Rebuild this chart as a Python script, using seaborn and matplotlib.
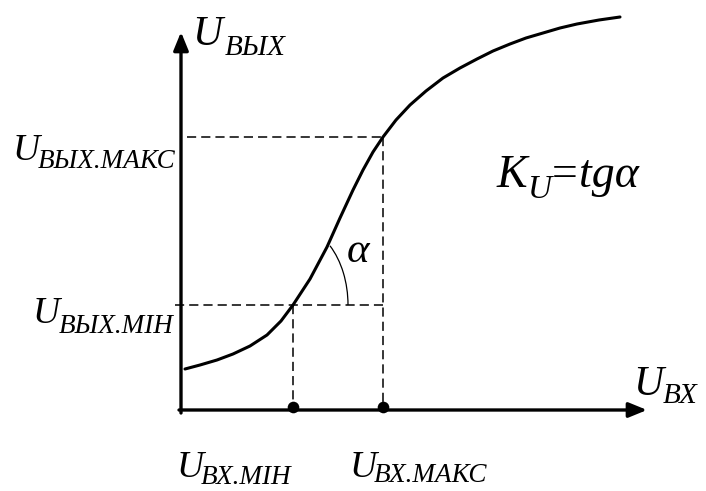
import numpy as np
import pandas as pd
import seaborn as sns
import matplotlib
matplotlib.use("Agg")
import matplotlib.pyplot as plt
from matplotlib.patches import Arc

# Transfer characteristic U_out(U_in), arbitrary units
u_in = [4, 19, 36, 52, 69, 86, 100, 112, 129, 146, 159, 172, 182, 192, 202,
        215, 229, 245, 262, 279, 296, 312, 329, 345, 362, 379, 396, 418, 439]
u_out = [41, 45, 50, 56, 64, 75, 89, 105, 131, 163, 192, 220, 240, 258, 273,
         290, 305, 319, 332, 342, 351, 359, 366, 372, 377, 382, 386, 390, 393]

# Working range of the input and the resulting output levels
in_levels = [112, 202]     # U_ВХ.МІН, U_ВХ.МАКС
out_levels = [105, 273]    # U_ВЫХ.МІН, U_ВЫХ.МАКС

# Axis extents
x_axis_end = 466
y_axis_end = 378

sns.set_theme(style="white")
plt.rcParams["font.family"] = ["Liberation Serif", "DejaVu Serif"]
plt.rcParams["font.style"] = "italic"
plt.rcParams["text.color"] = "black"

fig = plt.figure(figsize=(7.06, 4.91), dpi=100)
ax = fig.add_axes([0, 0, 1, 1])
ax.set_xlim(-181, 525)
ax.set_ylim(-81, 410)
ax.axis("off")

curve = pd.DataFrame({"u_in": u_in, "u_out": u_out})
sns.lineplot(data=curve, x="u_in", y="u_out", sort=False, estimator=None,
             color="black", lw=2.2, ax=ax)
for line in ax.lines:
    line.set_solid_joinstyle("round")
    line.set_solid_capstyle("round")

# Coordinate axes with arrowheads
arrow = dict(arrowstyle="-|>,head_length=1.1,head_width=0.45", color="black",
             lw=2.4, shrinkA=0, shrinkB=0, mutation_scale=10)
ax.annotate("", xy=(0, y_axis_end), xytext=(0, -3), arrowprops=arrow)
ax.annotate("", xy=(x_axis_end, 0), xytext=(-2, 0), arrowprops=arrow)

# Dashed projection lines
dash = dict(color="black", lw=1.1, dashes=(6, 3.3))
ax.plot([-6, in_levels[1]], [out_levels[0], out_levels[0]], **dash)
ax.plot([6, in_levels[1]], [out_levels[1], out_levels[1]], **dash)
ax.plot([in_levels[0], in_levels[0]], [out_levels[0], 0], **dash)
ax.plot([in_levels[1], in_levels[1]], [out_levels[1], 0], **dash)

# Points on the input axis
sns.scatterplot(x=in_levels, y=[3, 3], color="black", s=70, marker="o",
                linewidth=0, ax=ax, zorder=5)

# Slope angle arc
ax.add_patch(Arc((in_levels[0], out_levels[0]), 110, 160, theta1=0,
                 theta2=58, color="black", lw=0.9))

def label(x, y, main, sub, size_main, size_sub, dx, dy):
    ax.text(x, y, main, fontsize=size_main, va="baseline", ha="left",
            color="black")
    ax.text(x + dx, y - dy, sub, fontsize=size_sub, va="baseline", ha="left",
            color="black")

label(11, 365, "U", "ВЫХ", 30, 21, 33, 10)
label(-168, 250, "U", "ВЫХ.МАКС", 27, 19.5, 25, 8)
label(-148, 87, "U", "ВЫХ.МІН", 27, 19.5, 26, 10)
label(-4, -67, "U", "ВХ.МІН", 27, 19.5, 24, 7)
label(169, -67, "U", "ВХ.МАКС", 27, 19.5, 24, 5)
label(452, 15, "U", "ВХ", 30, 21, 30, 8)

ax.text(316, 223, "K", fontsize=33, va="baseline", ha="left", color="black")
ax.text(347, 212, "U", fontsize=24, va="baseline", ha="left", color="black")
ax.text(368, 223, "=tgα", fontsize=33, va="baseline", ha="left",
        color="black")
ax.text(166, 148, "α", fontsize=31, va="baseline", ha="left", color="black")

fig.savefig("out.png", dpi=100)
